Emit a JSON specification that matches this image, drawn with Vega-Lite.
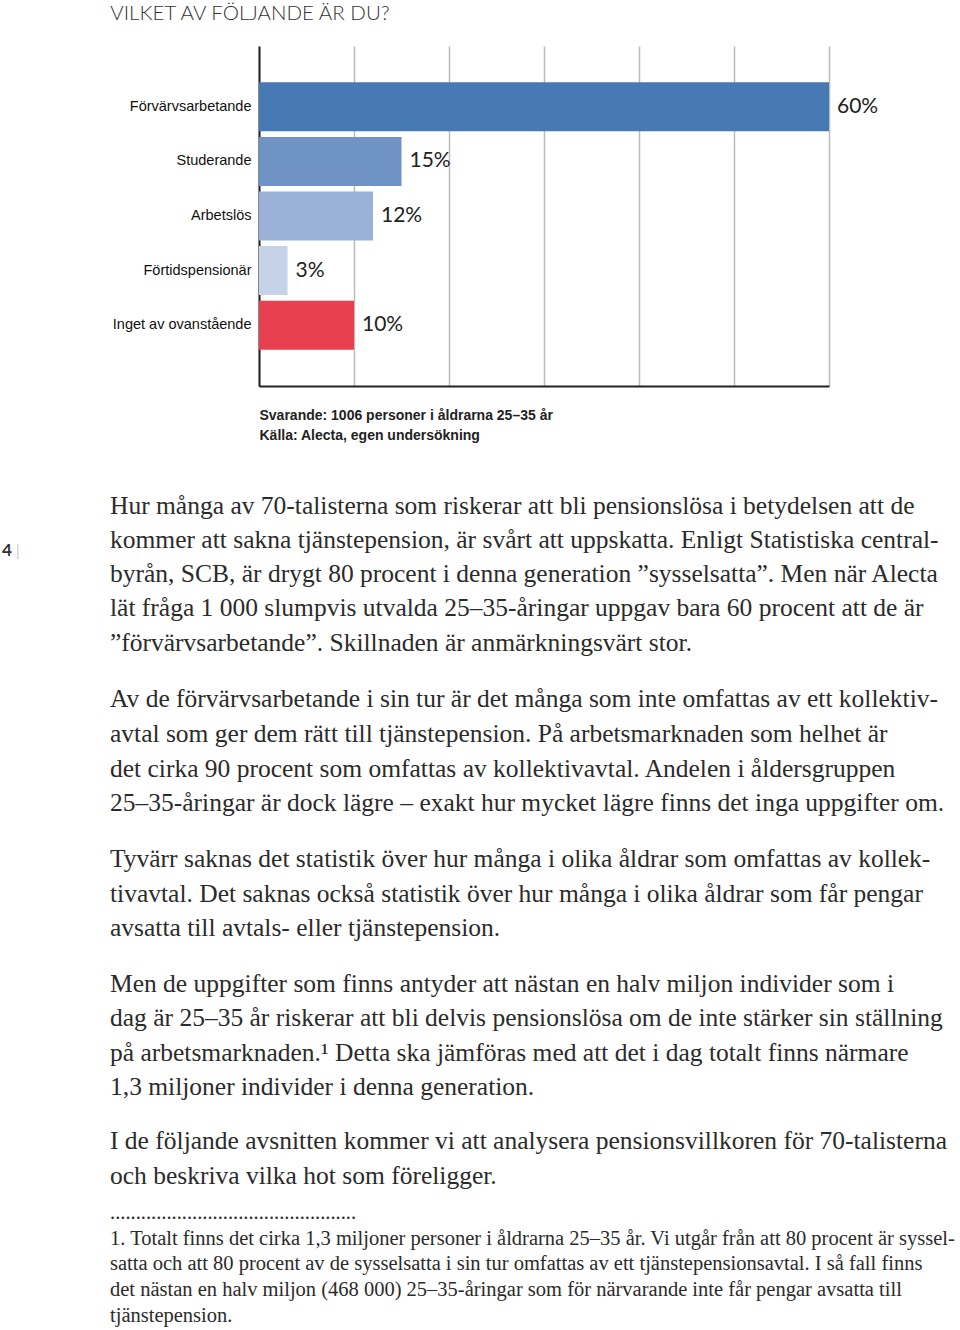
{
  "$schema": "https://vega.github.io/schema/vega-lite/v6.json",
  "padding": {"left": 2, "top": 4, "right": 0, "bottom": 0},
  "background": "white",
  "config": {
    "view": {"stroke": null},
    "text": {"font": "Liberation Serif", "fontSize": 25.5, "color": "#2b2b2b", "align": "left", "baseline": "middle"}
  },
  "spacing": 0,
  "resolve": {"scale": {"x": "independent", "y": "independent", "color": "independent"}},
  "datasets": {
    "bars": [
      {"cat": "Förvärvsarbetande", "pct": 60, "label": "60%"},
      {"cat": "Studerande", "pct": 15, "label": "15%"},
      {"cat": "Arbetslös", "pct": 12, "label": "12%"},
      {"cat": "Förtidspensionär", "pct": 3, "label": "3%"},
      {"cat": "Inget av ovanstående", "pct": 10, "label": "10%"}
    ],
    "p1": [
      {"n": 1, "t": "Hur många av 70-talisterna som riskerar att bli pensionslösa i betydelsen att de"},
      {"n": 2, "t": "kommer att sakna tjänstepension, är svårt att uppskatta. Enligt Statistiska central-"},
      {"n": 3, "t": "byrån, SCB, är drygt 80 procent i denna generation ”sysselsatta”. Men när Alecta"},
      {"n": 4, "t": "lät fråga 1 000 slumpvis utvalda 25–35-åringar uppgav bara 60 procent att de är"},
      {"n": 5, "t": "”förvärvsarbetande”. Skillnaden är anmärkningsvärt stor."}
    ],
    "p2": [
      {"n": 1, "t": "Av de förvärvsarbetande i sin tur är det många som inte omfattas av ett kollektiv-"},
      {"n": 2, "t": "avtal som ger dem rätt till tjänstepension. På arbetsmarknaden som helhet är"},
      {"n": 3, "t": "det cirka 90 procent som omfattas av kollektivavtal. Andelen i åldersgruppen"},
      {"n": 4, "t": "25–35-åringar är dock lägre – exakt hur mycket lägre finns det inga uppgifter om."}
    ],
    "p3": [
      {"n": 1, "t": "Tyvärr saknas det statistik över hur många i olika åldrar som omfattas av kollek-"},
      {"n": 2, "t": "tivavtal. Det saknas också statistik över hur många i olika åldrar som får pengar"},
      {"n": 3, "t": "avsatta till avtals- eller tjänstepension."}
    ],
    "p4": [
      {"n": 1, "t": "Men de uppgifter som finns antyder att nästan en halv miljon individer som i"},
      {"n": 2, "t": "dag är 25–35 år riskerar att bli delvis pensionslösa om de inte stärker sin ställning"},
      {"n": 3, "t": "på arbetsmarknaden.¹ Detta ska jämföras med att det i dag totalt finns närmare"},
      {"n": 4, "t": "1,3 miljoner individer i denna generation."}
    ],
    "p5": [
      {"n": 1, "t": "I de följande avsnitten kommer vi att analysera pensionsvillkoren för 70-talisterna"},
      {"n": 2, "t": "och beskriva vilka hot som föreligger."}
    ],
    "fn": [
      {"n": 0, "t": "................................................"},
      {"n": 1, "t": "1. Totalt finns det cirka 1,3 miljoner personer i åldrarna 25–35 år. Vi utgår från att 80 procent är syssel-"},
      {"n": 2, "t": "satta och att 80 procent av de sysselsatta i sin tur omfattas av ett tjänstepensionsavtal. I så fall finns"},
      {"n": 3, "t": "det nästan en halv miljon (468 000) 25–35-åringar som för närvarande inte får pengar avsatta till"},
      {"n": 4, "t": "tjänstepension."}
    ]
  },
  "vconcat": [
    {
      "title": {"text": "VILKET AV FÖLJANDE ÄR DU?", "anchor": "start", "frame": "bounds", "font": "Lato", "fontSize": 20.5, "fontWeight": 300, "color": "#333333", "offset": 21.5, "dx": -2},
      "width": 570,
      "height": 340,
      "data": {"name": "bars"},
      "encoding": {
        "y": {
          "field": "cat", "type": "nominal", "sort": null,
          "scale": {"paddingInner": 0.103, "paddingOuter": 0.665},
          "axis": {"title": null, "ticks": false, "labelPadding": 8, "labelFont": "Liberation Sans", "labelFontSize": 14.5, "labelColor": "#111111", "domainColor": "#222222", "domainWidth": 2, "grid": false}
        },
        "x": {
          "field": "pct", "type": "quantitative",
          "scale": {"domain": [0, 60], "nice": false},
          "axis": {
            "values": [0, 10, 20, 30, 40, 50, 60], "labels": false, "ticks": false,
            "grid": true, "gridColor": "#bbbbbb", "gridWidth": 1.5,
            "domainColor": "#222222", "domainWidth": 2,
            "title": ["Svarande: 1006 personer i åldrarna 25–35 år", "Källa: Alecta, egen undersökning"],
            "titleFont": "Liberation Sans", "titleFontSize": 14, "titleFontWeight": "bold", "titleColor": "#222222",
            "titleAnchor": "start", "titleAlign": "left", "titleLineHeight": 20, "titlePadding": 22
          }
        }
      },
      "layer": [
        {
          "mark": {"type": "bar"},
          "encoding": {
            "color": {
              "field": "cat", "type": "nominal", "legend": null,
              "scale": {
                "domain": ["Förvärvsarbetande", "Studerande", "Arbetslös", "Förtidspensionär", "Inget av ovanstående"],
                "range": ["#4779b4", "#7093c6", "#9ab1d8", "#c5d2e8", "#e8404e"]
              }
            }
          }
        },
        {
          "mark": {"type": "text", "font": "Lato", "fontSize": 21, "color": "#222222", "dx": 8, "align": "left", "baseline": "middle"},
          "encoding": {"text": {"field": "label"}}
        }
      ]
    },
    {
      "width": 690,
      "height": 205.8,
      "data": {"name": "p1"},
      "layer": [
        {
          "mark": {"type": "text"},
          "encoding": {
            "y": {"field": "n", "type": "ordinal", "axis": null, "scale": {"padding": 1, "align": 0.927}},
            "x": {"datum": "body", "type": "nominal", "axis": null, "scale": {"domain": ["page", "body"], "range": [-257, -149], "padding": 0}},
            "text": {"field": "t"}
          }
        },
        {
          "data": {"values": [{"pg": "4"}]},
          "mark": {"type": "text", "font": "Lato", "fontSize": 17, "fontWeight": "bold", "color": "#333333", "dy": 6},
          "encoding": {
            "x": {"datum": "page", "type": "nominal"},
            "text": {"field": "pg"}
          }
        },
        {
          "data": {"values": [{"pg": "4"}]},
          "mark": {"type": "text", "font": "Lato", "fontSize": 15, "fontWeight": 300, "color": "#999999", "dy": 6, "dx": 14},
          "encoding": {
            "x": {"datum": "page", "type": "nominal"},
            "text": {"value": "|"}
          }
        }
      ]
    },
    {
      "width": 690,
      "height": 173.3,
      "data": {"name": "p2"},
      "mark": {"type": "text"},
      "encoding": {
        "y": {"field": "n", "type": "ordinal", "axis": null, "scale": {"padding": 1, "align": 0.613}},
        "x": {"datum": "body", "type": "nominal", "axis": null, "scale": {"domain": ["page", "body"], "range": [-257, -149], "padding": 0}},
        "text": {"field": "t"}
      }
    },
    {
      "width": 690,
      "height": 123.2,
      "data": {"name": "p3"},
      "mark": {"type": "text"},
      "encoding": {
        "y": {"field": "n", "type": "ordinal", "axis": null, "scale": {"padding": 0.786, "align": 0.52}},
        "x": {"datum": "body", "type": "nominal", "axis": null, "scale": {"domain": ["page", "body"], "range": [-257, -149], "padding": 0}},
        "text": {"field": "t"}
      }
    },
    {
      "width": 690,
      "height": 158,
      "data": {"name": "p4"},
      "mark": {"type": "text"},
      "encoding": {
        "y": {"field": "n", "type": "ordinal", "axis": null, "scale": {"padding": 0.801, "align": 0.527}},
        "x": {"datum": "body", "type": "nominal", "axis": null, "scale": {"domain": ["page", "body"], "range": [-257, -149], "padding": 0}},
        "text": {"field": "t"}
      }
    },
    {
      "width": 690,
      "height": 76,
      "data": {"name": "p5"},
      "mark": {"type": "text"},
      "encoding": {
        "y": {"field": "n", "type": "ordinal", "axis": null, "scale": {"padding": 0.6, "align": 0.68}},
        "x": {"datum": "body", "type": "nominal", "axis": null, "scale": {"domain": ["page", "body"], "range": [-257, -149], "padding": 0}},
        "text": {"field": "t"}
      }
    },
    {
      "width": 690,
      "height": 138.5,
      "data": {"name": "fn"},
      "mark": {"type": "text", "fontSize": 20.5},
      "encoding": {
        "y": {"field": "n", "type": "ordinal", "axis": null, "scale": {"padding": 0.697, "align": 0.642}},
        "x": {"datum": "body", "type": "nominal", "axis": null, "scale": {"domain": ["page", "body"], "range": [-257, -149], "padding": 0}},
        "text": {"field": "t"}
      }
    }
  ]
}
